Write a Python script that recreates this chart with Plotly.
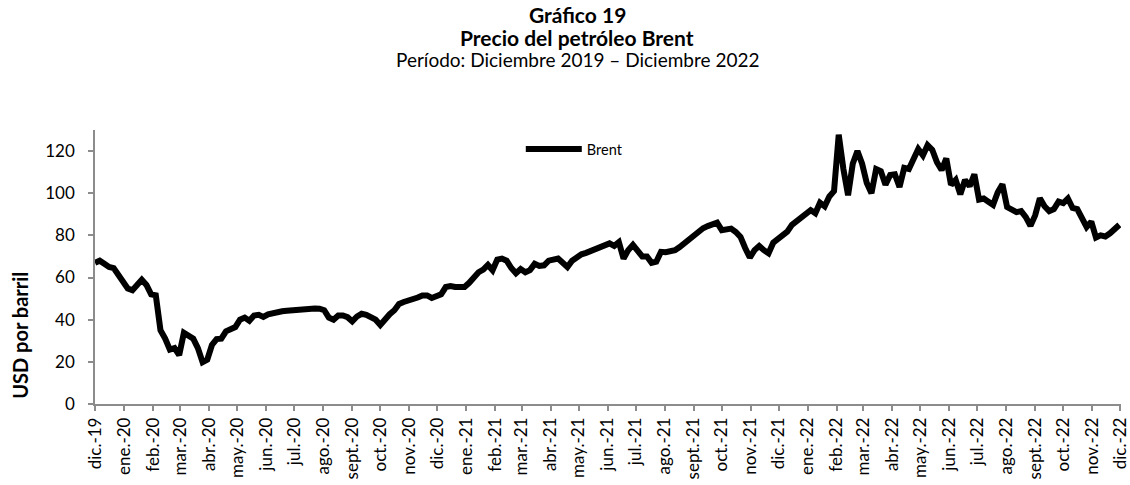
import pandas as pd
import plotly.graph_objects as go

# Brent price (USD per barrel), every 5 days starting 1 Dec 2019
start_date = "2019-12-01"
step_days = 5
brent = [
    67, 68, 66.5, 65, 64.5, 61, 58.5, 54.8, 54, 56.8,
    59, 56.5, 52, 51.6, 35, 31, 25.8, 26.5, 23.2, 33.8,
    32, 31, 26.5, 19.8, 21, 28, 30.8, 31, 34.5, 35.5,
    36.5, 40, 41, 39.5, 42, 42.3, 41.3, 42.5, 43.2, 43.6,
    44, 44.2, 44.5, 44.8, 45, 45.3, 45.5, 45.3, 45.2, 44.5,
    41, 40, 42, 42, 41.2, 39.2, 41.5, 42.8, 42.3, 41.5,
    40, 37.5, 40.5, 42.6, 44.5, 47.5, 48.4, 49, 49.5, 50.5,
    51.5, 51.5, 50.3, 51, 52, 55.5, 56, 55.5, 55.5, 55.5,
    57.5, 60.5, 62.5, 63.8, 66, 63.5, 68.5, 69, 68, 64.5,
    62, 64, 62.5, 63.5, 66.5, 65.5, 65.8, 68, 68.5, 69,
    67, 65, 68, 69.8, 71, 71.7, 72.6, 73.7, 74.8, 75.5,
    76.2, 75, 76.8, 69, 73, 75.5, 73, 70, 70, 67,
    67.5, 72.2, 72, 72.4, 73, 74.5, 76.4, 78.6, 80.5, 82,
    83.4, 84.4, 85, 86, 82.5, 82.6, 83.2, 81.6, 79.3, 74,
    69.5, 73, 75, 73, 71.5, 76.5, 78.3, 80, 81.8, 85,
    86.8, 87.7, 90, 92, 90.5, 95.5, 93.8, 98.5, 101, 127.8,
    111.5, 99, 114, 120, 114, 104.8, 100, 111.5, 110.5, 104,
    108.7, 109, 103, 112, 111.5, 116.5, 121, 118, 122.8, 120.6,
    114.7, 111, 116.5, 104, 106.3, 99.5, 106.3, 103.3, 109, 97,
    97.5, 96, 94.5, 100.5, 104.2, 93.4, 92, 91, 91.5, 88.7,
    84.5, 89.5, 97.6, 93.8, 91.5, 92.5, 96, 95.3, 97.5, 93,
    92.5, 87.5, 84, 86.5, 79, 80, 79.5, 81, 83.5, 85,
]
dates = pd.date_range(start_date, periods=len(brent), freq=f"{step_days}D")

tick_labels = [
    "dic.-19", "ene.-20", "feb.-20", "mar.-20", "abr.-20", "may.-20", "jun.-20",
    "jul.-20", "ago.-20", "sept.-20", "oct.-20", "nov.-20", "dic.-20",
    "ene.-21", "feb.-21", "mar.-21", "abr.-21", "may.-21", "jun.-21",
    "jul.-21", "ago.-21", "sept.-21", "oct.-21", "nov.-21", "dic.-21",
    "ene.-22", "feb.-22", "mar.-22", "abr.-22", "may.-22", "jun.-22",
    "jul.-22", "ago.-22", "sept.-22", "oct.-22", "nov.-22", "dic.-22",
]
tick_dates = pd.date_range("2019-12-01", periods=len(tick_labels), freq="MS")
x_range = ["2019-12-01", "2022-12-01 18:00"]
y_ticks = [0, 20, 40, 60, 80, 100, 120]

FONT = "Lato"

fig = go.Figure()
fig.add_trace(go.Scatter(
    x=dates, y=brent, mode="lines", name="Brent",
    line=dict(color="black", width=6),
))

fig.update_layout(
    width=1130, height=485,
    margin=dict(l=95, r=9, t=130, b=81),
    paper_bgcolor="white", plot_bgcolor="white",
    font=dict(family=FONT, color="black", size=16),
    showlegend=True,
    legend=dict(
        x=0.415, y=0.93, xanchor="left", yanchor="middle",
        itemwidth=56,
        bgcolor="rgba(0,0,0,0)", font=dict(size=14.5, family=FONT),
    ),
    xaxis=dict(
        type="date", automargin=False,
        range=x_range,
        tickmode="array", tickvals=list(tick_dates), ticktext=tick_labels,
        tickangle=-90, tickfont=dict(size=17, family=FONT),
        showline=True, linecolor="#8c8c8c", linewidth=1.5,
        ticks="outside", ticklen=5, tickcolor="#8c8c8c", tickwidth=1.5,
        showgrid=False, zeroline=False,
    ),
    yaxis=dict(
        automargin=False,
        range=[0, 130],
        tickmode="array", tickvals=y_ticks,
        tickfont=dict(size=17, family=FONT),
        ticklabelstandoff=10,
        showline=True, linecolor="#8c8c8c", linewidth=1.5,
        ticks="outside", ticklen=5, tickcolor="#8c8c8c", tickwidth=1.5,
        showgrid=False, zeroline=False,
    ),
)

fig.add_annotation(text="<b>USD por barril</b>", xref="paper", yref="paper",
                   x=0, xshift=-75, y=0.249, textangle=-90, showarrow=False,
                   font=dict(size=20, family=FONT), xanchor="center", yanchor="middle")

title_x = 0.47
fig.add_annotation(text="<b>Gráfico 19</b>", xref="paper", yref="paper",
                   x=title_x, y=1, yshift=116, showarrow=False,
                   font=dict(size=21, family=FONT), xanchor="center", yanchor="middle")
fig.add_annotation(text="<b>Precio del petróleo Brent</b>", xref="paper", yref="paper",
                   x=title_x, y=1, yshift=93, showarrow=False,
                   font=dict(size=21, family=FONT), xanchor="center", yanchor="middle")
fig.add_annotation(text="Período: Diciembre 2019 – Diciembre 2022", xref="paper", yref="paper",
                   x=title_x, y=1, yshift=71, showarrow=False,
                   font=dict(size=19, family=FONT), xanchor="center", yanchor="middle")

fig.write_html(
    "out.html",
    config={"displayModeBar": False},
    post_script="document.body.style.margin='0';document.body.style.overflow='hidden';",
)
